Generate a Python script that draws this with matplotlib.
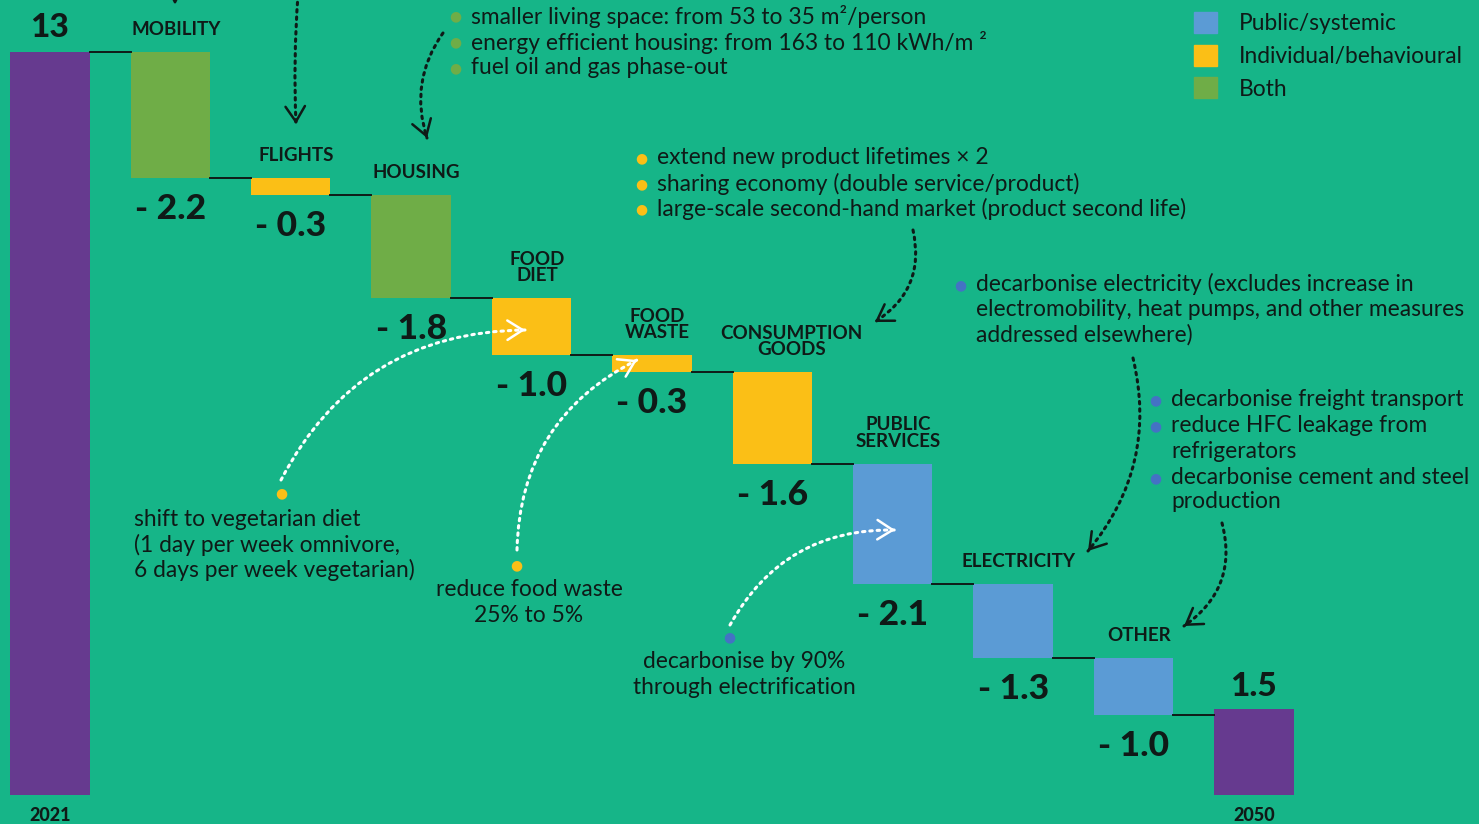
import numpy as np
import matplotlib
matplotlib.use('Agg')
import matplotlib.pyplot as plt
from matplotlib.patches import Patch

plt.rcParams['font.family'] = ['Lato', 'DejaVu Sans']

# data
start_year, end_year = '2021', '2050'
start_value = 13
end_value = 1.5
categories = ['MOBILITY', 'FLIGHTS', 'HOUSING', 'FOOD\nDIET', 'FOOD\nWASTE',
              'CONSUMPTION\nGOODS', 'PUBLIC\nSERVICES', 'ELECTRICITY', 'OTHER']
deltas = [-2.2, -0.3, -1.8, -1.0, -0.3, -1.6, -2.1, -1.3, -1.0]
kinds = ['both', 'indiv', 'both', 'indiv', 'indiv', 'indiv', 'public', 'public', 'public']

BG = '#16b588'
colors = {'public': '#5b9bd5', 'indiv': '#fbbf16', 'both': '#6fad47', 'total': '#663a8f'}
DARK = '#0f1a17'
W, H = 1479, 824
FS = 16.4

fig = plt.figure(figsize=(W / 100, H / 100), dpi=100, facecolor=BG)
ax = fig.add_axes([0, 0, 1, 1])
ax.set_facecolor(BG)
ax.set_xlim(-0.415, 11.87)
ax.set_ylim(-0.507, 13.91)
ax.axis('off')

bw = 0.66
n = len(deltas)

# totals
ax.bar(0, start_value, width=bw, color=colors['total'])
ax.bar(n + 1, end_value, width=bw, color=colors['total'])

level = start_value
tops, bottoms = [], []
for i, d in enumerate(deltas):
    new = level + d
    ax.bar(i + 1, level - new, bottom=new, width=bw, color=colors[kinds[i]])
    # connector from previous bar
    ax.plot([i + bw / 2, i + 1 - bw / 2], [level, level], color=DARK, lw=1.4)
    tops.append(level)
    bottoms.append(new)
    level = new
ax.plot([n + bw / 2, n + 1 - bw / 2], [level, level], color=DARK, lw=1.4)

# labels
ax.annotate(f'{start_value}', (0, start_value), xytext=(0, 7), textcoords='offset points',
            ha='center', va='bottom', fontsize=24, fontweight='black', color=DARK)
ax.annotate(f'{end_value}', (n + 1, end_value), xytext=(0, 6), textcoords='offset points',
            ha='center', va='bottom', fontsize=24, fontweight='black', color=DARK)
ax.annotate(start_year, (0, 0), xytext=(0, -8.5), textcoords='offset points',
            ha='center', va='top', fontsize=13, fontweight='black', color=DARK)
ax.annotate(end_year, (n + 1, 0), xytext=(0, -8.5), textcoords='offset points',
            ha='center', va='top', fontsize=13, fontweight='black', color=DARK)

for i, (cat, d) in enumerate(zip(categories, deltas)):
    dx = 14 if cat.startswith('CONSUMPTION') else 4
    ax.annotate(cat, (i + 1, tops[i]), xytext=(dx, 10), textcoords='offset points',
                ha='center', va='bottom', fontsize=13.5, fontweight='bold',
                color=DARK, linespacing=0.95)
    ax.annotate(f'- {abs(d):.1f}', (i + 1, bottoms[i]), xytext=(0, -11), textcoords='offset points',
                ha='center', va='top', fontsize=25.5, fontweight='black', color=DARK)

# legend
handles = [Patch(color=colors['public'], label='Public/systemic'),
           Patch(color=colors['indiv'], label='Individual/behavioural'),
           Patch(color=colors['both'], label='Both')]
leg = ax.legend(handles=handles, loc='upper left', bbox_to_anchor=(1185 / W, 1 - 3 / H),
                frameon=False, fontsize=FS, handlelength=1.0, handleheight=1.05,
                handletextpad=0.95, labelspacing=0.45, borderaxespad=0)
for t in leg.get_texts():
    t.set_color(DARK)


def px(x, y):
    return (x, H - y)


def bullets(x, ys, lines, color, dot_ys=None):
    for y, line in zip(ys, lines):
        fig.text(x / W, 1 - y / H, line, ha='left', va='center', fontsize=FS, color=DARK)
    for y in (dot_ys if dot_ys is not None else ys):
        fig.text((x - 16) / W, 1 - y / H, '●', ha='center', va='center',
                 fontsize=10, color=color, family='DejaVu Sans')


def note(x, ys, lines, ha):
    for y, line in zip(ys, lines):
        fig.text(x / W, 1 - y / H, line, ha=ha, va='center', fontsize=FS, color=DARK)


def dot(x, y, color):
    fig.text(x / W, 1 - y / H, '●', ha='center', va='center', fontsize=10, color=color,
             family='DejaVu Sans')


def curved_arrow(p0, p1, rad, color):
    a, b = px(*p0), px(*p1)
    ax.annotate('', xy=b, xytext=a, xycoords='figure pixels', textcoords='figure pixels',
                arrowprops=dict(arrowstyle='-', color=color, lw=2.2, linestyle=(0, (0.8, 1.6)),
                                connectionstyle=f'arc3,rad={rad}', shrinkA=0, shrinkB=0))
    mx, my = (a[0] + b[0]) / 2, (a[1] + b[1]) / 2
    dx, dy = b[0] - a[0], b[1] - a[1]
    cx, cy = mx + rad * dy, my - rad * dx
    tx, ty = b[0] - cx, b[1] - cy
    nrm = np.hypot(tx, ty)
    tail = (b[0] - 3 * tx / nrm, b[1] - 3 * ty / nrm)
    ax.annotate('', xy=b, xytext=tail, xycoords='figure pixels', textcoords='figure pixels',
                arrowprops=dict(arrowstyle='->,head_length=0.55,head_width=0.35', color=color,
                                lw=1.8, shrinkA=0, shrinkB=0, mutation_scale=20))


# annotations
bullets(471, [16, 42, 68], ['smaller living space: from 53 to 35 m²/person',
                            'energy efficient housing: from 163 to 110 kWh/m ²',
                            'fuel oil and gas phase-out'], colors['both'])
bullets(657, [158, 184, 209], ['extend new product lifetimes × 2',
                               'sharing economy (double service/product)',
                               'large-scale second-hand market (product second life)'],
        colors['indiv'])
bullets(976, [284, 310, 335], ['decarbonise electricity (excludes increase in',
                               'electromobility, heat pumps, and other measures',
                               'addressed elsewhere)'], '#4472c4', dot_ys=[285])
bullets(1171, [399, 425, 451, 477, 502], ['decarbonise freight transport',
                                          'reduce HFC leakage from', 'refrigerators',
                                          'decarbonise cement and steel', 'production'],
        '#4472c4', dot_ys=[400, 426, 478])

dot(281, 493, colors['indiv'])
note(134, [520, 545, 570], ['shift to vegetarian diet', '(1 day per week omnivore,',
                            '6 days per week vegetarian)'], 'left')
dot(516, 565, colors['indiv'])
note(529, [590, 615], ['reduce food waste', '25% to 5%'], 'center')
dot(729, 637, '#4472c4')
note(744, [662, 687], ['decarbonise by 90%', 'through electrification'], 'center')

curved_arrow((175, -40), (175, 4), 0.0, DARK)
curved_arrow((298, -5), (296, 124), 0.03, DARK)
curved_arrow((443, 33), (427, 138), 0.25, DARK)
curved_arrow((913, 230), (875, 322), -0.35, DARK)
curved_arrow((1133, 358), (1088, 551), -0.25, DARK)
curved_arrow((1222, 523), (1184, 626), -0.35, DARK)
curved_arrow((281, 480), (525, 330), -0.3, 'white')
curved_arrow((517, 550), (637, 360), -0.3, 'white')
curved_arrow((730, 625), (895, 530), -0.3, 'white')

fig.savefig('out.png', dpi=100, facecolor=BG)
